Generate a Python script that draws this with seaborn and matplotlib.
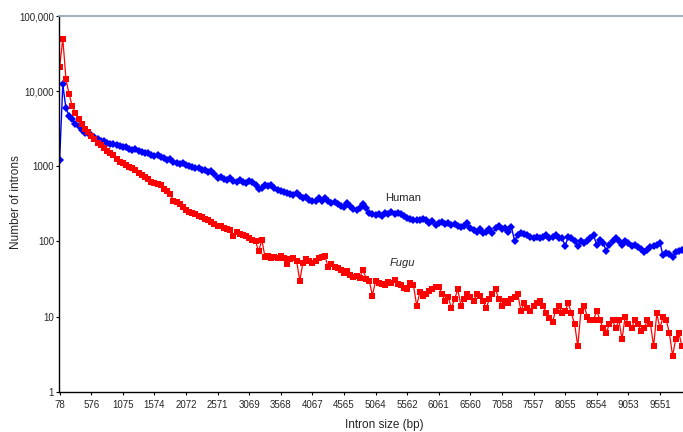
import numpy as np
import pandas as pd
import matplotlib
matplotlib.use("Agg")
import matplotlib.pyplot as plt
import seaborn as sns

# Number of introns per intron-size bin (bins of ~50 bp starting at 78 bp)
human = [
    1200, 12300, 5900, 4700, 4200, 3700, 3400, 3000, 2800, 2750,
    2600, 2450, 2300, 2200, 2150, 2050, 1950, 1980, 1900, 1850,
    1800, 1820, 1700, 1650, 1700, 1580, 1550, 1480, 1500, 1420,
    1380, 1400, 1320, 1280, 1220, 1250, 1150, 1120, 1080, 1100,
    1040, 1000, 980, 940, 960, 900, 880, 840, 860, 800,
    690, 720, 680, 650, 700, 640, 620, 660, 610, 600,
    640, 620, 560, 500, 520, 560, 540, 560, 520, 490,
    470, 460, 440, 430, 410, 440, 400, 380, 390, 360,
    345, 340, 380, 350, 380, 340, 320, 330, 310, 300,
    290, 320, 300, 270, 260, 280, 310, 280, 240, 230,
    225, 230, 220, 240, 230, 250, 230, 240, 235, 215,
    205, 200, 195, 190, 195, 200, 190, 175, 185, 165,
    175, 180, 170, 175, 165, 170, 160, 155, 160, 175,
    150, 140, 135, 145, 130, 135, 145, 130, 150, 160,
    145, 150, 135, 155, 102, 120, 130, 125, 120, 115,
    110, 115, 110, 115, 120, 110, 115, 120, 112, 110,
    88, 115, 110, 100, 88, 100, 95, 100, 110, 120,
    90, 105, 95, 75, 90, 100, 110, 100, 90, 100,
    95, 88, 90, 85, 80, 72, 78, 85, 88, 90,
    95, 65, 70, 68, 62, 72, 75, 78,
]
fugu = [
    21000, 50000, 14500, 9100, 6300, 5100, 4300, 3700, 3100, 2900,
    2500, 2300, 2050, 1900, 1750, 1600, 1500, 1400, 1250, 1150,
    1100, 1050, 990, 950, 900, 820, 760, 720, 680, 620,
    590, 580, 560, 500, 470, 430, 350, 330, 310, 290,
    260, 250, 240, 230, 220, 210, 200, 195, 180, 170,
    160, 158, 150, 148, 140, 118, 135, 125, 120, 118,
    110, 105, 100, 74, 105, 62, 63, 60, 62, 60,
    63, 60, 50, 58, 60, 55, 30, 52, 58, 55,
    52, 55, 60, 62, 63, 45, 50, 46, 44, 42,
    38, 40, 36, 34, 35, 33, 42, 32, 30, 19,
    30, 28, 27, 26, 29, 28, 31, 27, 26, 24,
    23, 28, 26, 14, 21, 19, 20, 22, 23, 25,
    25, 20, 16, 18, 13, 17, 23, 14, 17, 20,
    18, 16, 20, 19, 16, 13, 17, 20, 23, 17,
    14, 16, 15, 17, 18, 20, 12, 15, 13, 12,
    14, 15, 16, 14, 11, 9.5, 8.5, 12, 14, 11,
    12, 15, 11, 8, 4, 12, 14, 10, 9, 9,
    12, 9, 7, 6, 8, 9, 7, 9, 5, 10,
    8, 7, 9, 8, 6.5, 7, 9, 8, 4, 11,
    7, 10, 9, 6, 3, 5, 6, 4,
]
tick_labels = ["78", "576", "1075", "1574", "2072", "2571", "3069", "3568",
               "4067", "4565", "5064", "5562", "6061", "6560", "7058", "7557",
               "8055", "8554", "9053", "9551"]
y_ticks = [1, 10, 100, 1000, 10000, 100000]
y_tick_labels = ["1", "10", "100", "1000", "10,000", "100,000"]

df_h = pd.DataFrame({"bin": np.arange(len(human)), "count": human})
df_f = pd.DataFrame({"bin": np.arange(len(fugu)), "count": fugu})

sns.set_style("white")
plt.rcParams["font.family"] = ["Liberation Sans", "DejaVu Sans"]

fig = plt.figure(figsize=(6.83, 4.32), dpi=100)
ax = fig.add_axes([59 / 683, 40.3 / 432, 624 / 683, 375.7 / 432])

sns.lineplot(data=df_h, x="bin", y="count", ax=ax, color="#0000ff",
             marker="D", markersize=3.6, markeredgewidth=0,
             linewidth=1.0, estimator=None)
sns.lineplot(data=df_f, x="bin", y="count", ax=ax, color="#ff0000",
             marker="s", markersize=4.3, markeredgewidth=0,
             linewidth=0.9, estimator=None)

ax.set_yscale("log")
ax.set_ylim(1, 100000)
ax.set_xlim(-0.2, 197.3)
ax.set_yticks(y_ticks)
ax.set_yticklabels(y_tick_labels)
ax.minorticks_off()
ax.set_xticks(np.arange(0, 10 * len(tick_labels), 10))
ax.set_xticklabels(tick_labels)
ax.tick_params(axis="both", which="major", labelsize=7, direction="out",
               length=2.3, width=0.8, color="black", left=True, bottom=True)
ax.tick_params(axis="y", pad=1.2)
ax.tick_params(axis="x", pad=3.5)

for s in ["left", "bottom"]:
    ax.spines[s].set_color("black")
    ax.spines[s].set_linewidth(1.0)
ax.spines["right"].set_visible(False)
ax.spines["top"].set_color("#8ea3ad")
ax.spines["top"].set_linewidth(1.2)

ax.set_xlabel("Intron size (bp)", fontsize=8.5)
ax.set_ylabel("Number of introns", fontsize=8.5)
ax.xaxis.set_label_coords(0.522, -0.072)
ax.yaxis.set_label_coords(-0.06, 0.505)

ax.text(108.6, 383, "Human", fontsize=8, ha="center", va="center")
ax.text(108.6, 52, "Fugu", fontsize=8, ha="center", va="center", style="italic")

fig.savefig("out.png", dpi=100)
